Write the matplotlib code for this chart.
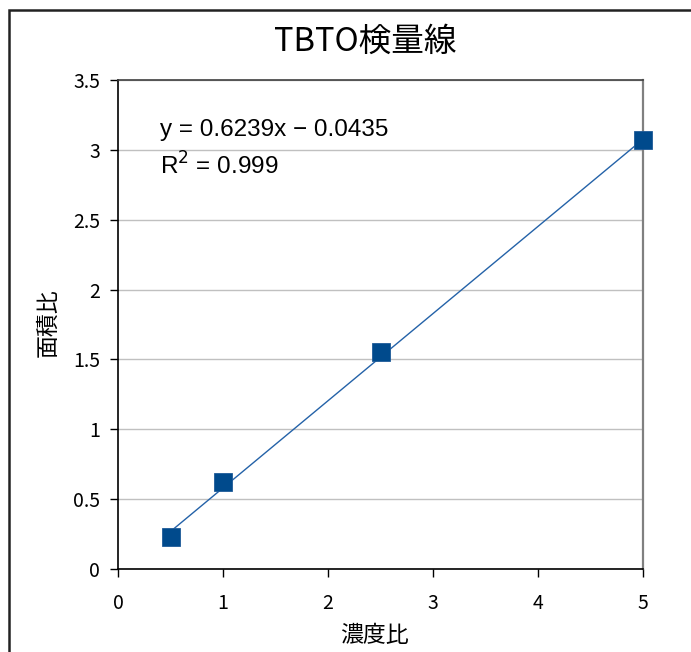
import matplotlib.pyplot as plt
from matplotlib.patches import Rectangle

# data
conc_ratio = [0.5, 1.0, 2.5, 5.0]
area_ratio = [0.23, 0.623, 1.553, 3.07]
slope = 0.6239
intercept = -0.0435
r2 = 0.999

xticks = [0, 1, 2, 3, 4, 5]
yticks = [0, 0.5, 1, 1.5, 2, 2.5, 3, 3.5]

plt.rcParams['font.family'] = ['Noto Sans CJK JP', 'DejaVu Sans']

fig = plt.figure(figsize=(6.91, 6.52), dpi=100)
ax = fig.add_axes([118 / 691, 1 - 569 / 652, (643 - 118) / 691, (569 - 80) / 652])

# outer chart-area border (only top and left are visible)
fig.patches.append(Rectangle((9 / 691, -0.1), 1.2, 1 - 10 / 652 + 0.1,
                             transform=fig.transFigure, fill=False,
                             edgecolor='#222222', linewidth=1.8))

ax.grid(axis='y', color='#c0c0c0', linewidth=1)
ax.set_axisbelow(True)

# trendline from the fitted equation
x0, x1 = conc_ratio[0], conc_ratio[-1]
ax.plot([x0, x1], [slope * x0 + intercept, slope * x1 + intercept],
        color='#2462a8', linewidth=1, zorder=2)
ax.plot(conc_ratio, area_ratio, linestyle='none', marker='s', markersize=13.5,
        markerfacecolor='#004a8c', markeredgecolor='#1e5a98', markeredgewidth=0.6,
        zorder=3, clip_on=False)

ax.set_xlim(0, 5)
ax.set_ylim(0, 3.5)
ax.set_xticks(xticks)
ax.set_yticks(yticks)
ax.set_xticklabels([str(v) for v in xticks])
ax.set_yticklabels(['0', '0.5', '1', '1.5', '2', '2.5', '3', '3.5'])
ax.tick_params(direction='out', length=6, width=1, labelsize=14, pad=7,
               colors='#000000')
ax.tick_params(axis='x', pad=11)

for side in ['left', 'bottom']:
    ax.spines[side].set_color('#000000')
    ax.spines[side].set_linewidth(1.2)
ax.spines['top'].set_color('#404040')
ax.spines['right'].set_color('#808080')
ax.spines['top'].set_linewidth(1.2)
ax.spines['right'].set_linewidth(1.6)

fig.text(365 / 691, 1 - 42 / 652, 'TBTO検量線', ha='center', va='center', fontsize=23.5)
fig.text(374 / 691, 1 - 636 / 652, '濃度比', ha='center', va='center', fontsize=16.5)
fig.text(48 / 691, 1 - 323 / 652, '面積比', ha='center', va='center', fontsize=16.5,
         rotation=90)

ax.text(160 / 691, 1 - 130 / 652,
        'y = %.4fx \u2212 %.4f' % (slope, -intercept),
        transform=fig.transFigure, ha='left', va='center', fontsize=17.5,
        family='Liberation Sans')
ax.text(160 / 691, 1 - 166 / 652, 'R$^2$ = %.3f' % r2,
        transform=fig.transFigure, ha='left', va='center', fontsize=17.5,
        family='Liberation Sans')

fig.savefig('out.png', dpi=100)
